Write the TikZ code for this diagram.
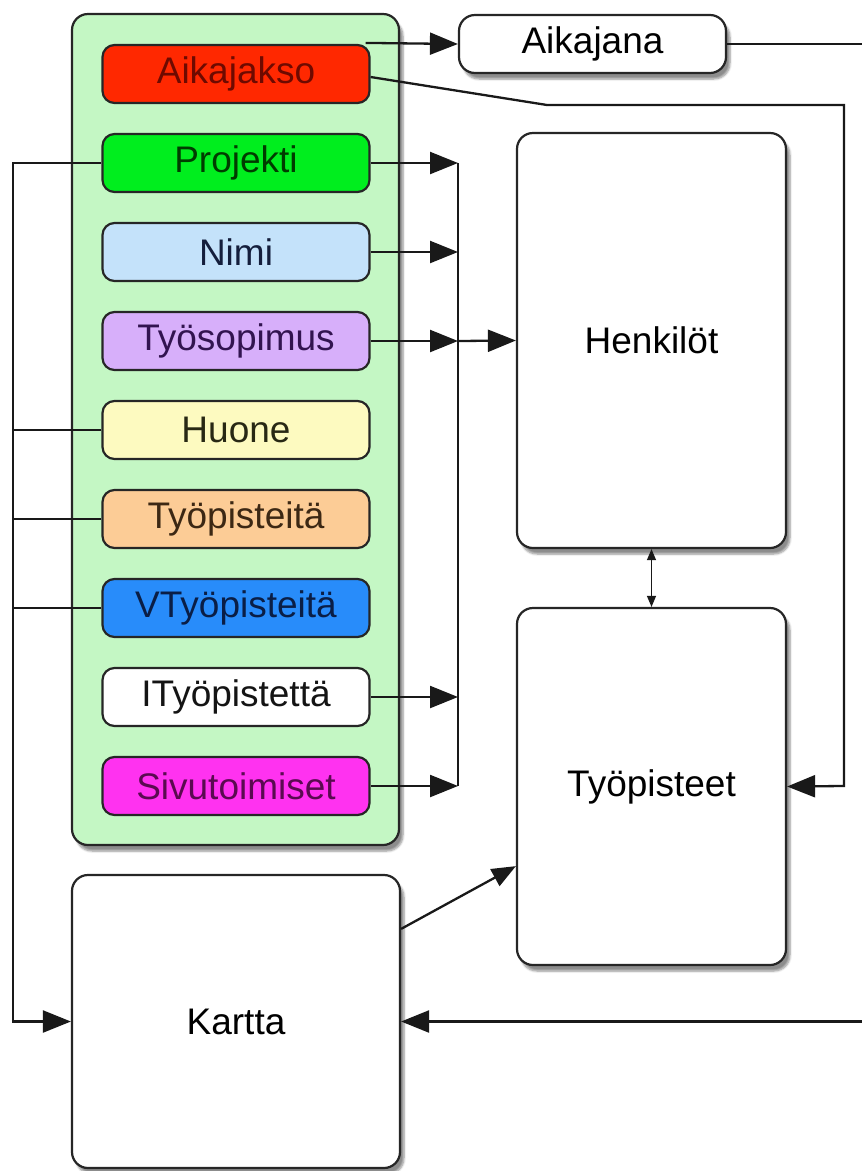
\documentclass[tikz,border=0pt]{standalone}
\usepackage{fontspec}
\setmainfont{Liberation Sans}
\usetikzlibrary{arrows.meta,shadows.blur,calc}
\definecolor{grpfill}{RGB}{196,247,196}
\definecolor{cAj}{RGB}{255,40,0}\definecolor{tAj}{RGB}{110,10,0}
\definecolor{cPr}{RGB}{0,238,30}\definecolor{tPr}{RGB}{0,60,0}
\definecolor{cNm}{RGB}{196,226,250}\definecolor{tNm}{RGB}{20,30,60}
\definecolor{cTs}{RGB}{215,175,250}\definecolor{tTs}{RGB}{50,20,80}
\definecolor{cHu}{RGB}{253,250,192}\definecolor{tHu}{RGB}{40,40,20}
\definecolor{cTp}{RGB}{252,204,150}\definecolor{tTp}{RGB}{60,40,20}
\definecolor{cVt}{RGB}{40,140,250}\definecolor{tVt}{RGB}{10,30,70}
\definecolor{cIt}{RGB}{255,255,255}\definecolor{tIt}{RGB}{20,20,20}
\definecolor{cSv}{RGB}{255,50,240}\definecolor{tSv}{RGB}{90,10,80}
\newcommand{\diafont}{\fontsize{37}{40}\selectfont}
\tikzset{
  base/.style={draw=black!85, line width=2.2pt, rounded corners=12pt, font=\diafont, align=center, inner sep=0pt},
  shad/.style={blur shadow={shadow xshift=4pt, shadow yshift=-6pt, shadow blur steps=6, shadow opacity=45}},
  item/.style={base, minimum width=267pt, minimum height=58pt},
  big/.style={base, rounded corners=16pt, fill=white, shad},
  conn/.style={line width=2.3pt, draw=black!90},
  arr/.style={conn, -{Triangle[length=28pt,width=22pt]}},
  sarr/.style={conn, -{Triangle[length=24pt,width=19pt]}},
  darr/.style={line width=1.2pt, draw=black!90, {Triangle[length=11pt,width=9pt]}-{Triangle[length=11pt,width=9pt]}},
}
\begin{document}
\begin{tikzpicture}[x=1pt,y=-1pt]
\useasboundingbox (0,0) rectangle (862,1171);
\begin{scope}
\clip (0,0) rectangle (862,1171);
% group container
\node[base, fill=grpfill, rounded corners=16pt, minimum width=327pt, minimum height=831pt, shad] (grp) at (235.5,429.5) {};
% items
\node[item, fill=cAj, text=tAj] (aj) at (236,74) {Aikajakso};
\node[item, fill=cPr, text=tPr] (pr) at (236,163) {Projekti};
\node[item, fill=cNm, text=tNm] (nm) at (236,252) {Nimi};
\node[item, fill=cTs, text=tTs] (ts) at (236,341) {Työsopimus};
\node[item, fill=cHu, text=tHu] (hu) at (236,430) {Huone};
\node[item, fill=cTp, text=tTp] (tpi) at (236,519) {Työpisteitä};
\node[item, fill=cVt, text=tVt] (vt) at (236,608) {VTyöpisteitä};
\node[item, fill=cIt, text=tIt] (it) at (236,697) {ITyöpistettä};
\node[item, fill=cSv, text=tSv] (sv) at (236,786) {Sivutoimiset};
% big boxes
\node[big, minimum width=267pt, minimum height=58pt] (aja) at (592.5,44) {Aikajana};
\node[big, minimum width=269pt, minimum height=415pt] (hk) at (651.5,340.5) {Henkilöt};
\node[big, minimum width=269pt, minimum height=357pt] (tp) at (651.5,786.5) {Työpisteet};
\node[big, minimum width=328pt, minimum height=293pt] (ka) at (236,1021.5) {Kartta};
% helper coordinates
\coordinate (bt) at (458,163);
\coordinate (bb) at (458,786);
\coordinate (lb) at (13,163);
\coordinate (c1) at (547,105);
\coordinate (c2) at (844,105);
\coordinate (c3) at (844,786);
\coordinate (r1) at (900,44);
\coordinate (r2) at (900,1021.5);
% connectors
\draw[arr] ([xshift=-5pt,yshift=1pt]aj.north east) -- (aja.west);
\draw[arr] ([yshift=-3pt]aj.east) -- (c1) -- (c2) -- (c3) -- (tp.east);
\draw[arr] (aja.east) -- (r1) -- (r2) -- (ka.east);
\draw[conn] (bt) -- (bb);
\draw[arr] (pr.east) -- (pr.east -| bt);
\draw[arr] (nm.east) -- (nm.east -| bt);
\draw[arr] (ts.east) -- (ts.east -| bt);
\draw[arr] (it.east) -- (it.east -| bt);
\draw[arr] (sv.east) -- (sv.east -| bt);
\draw[arr] (ts.east -| bt) -- (hk.west);
\draw[arr] (pr.west) -- (lb) -- (lb |- ka.west) -- (ka.west);
\draw[conn] (hu.west) -- (hu.west -| lb);
\draw[conn] (tpi.west) -- (tpi.west -| lb);
\draw[conn] (vt.west) -- (vt.west -| lb);
\draw[sarr] ($(ka.north east)+(0,55)$) -- ($(tp.south west)+(0,-100)$);
\draw[darr] (hk.south) -- (tp.north);
\end{scope}
\end{tikzpicture}
\end{document}
